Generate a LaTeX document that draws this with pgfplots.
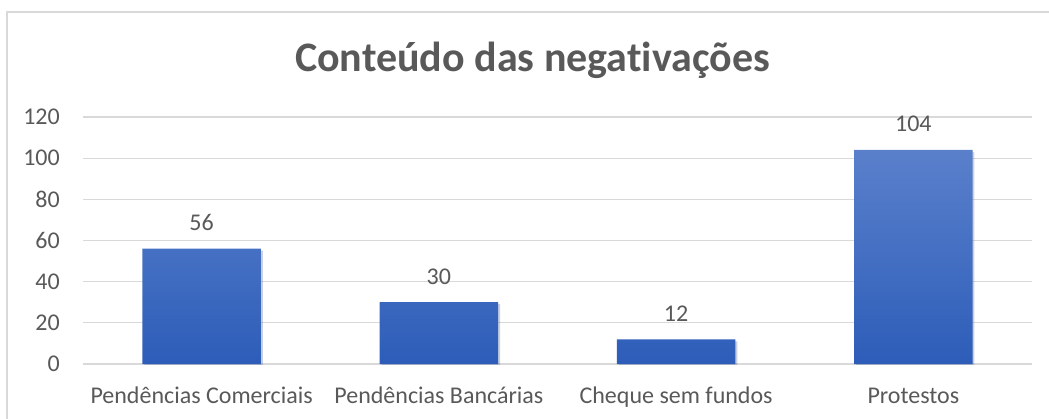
\documentclass[border=0pt]{standalone}
\usepackage{pgfplots}
\pgfplotsset{compat=1.18}
\usepackage{fontspec}
\setmainfont[Ligatures=NoCommon]{Carlito}
\usetikzlibrary{shadows}

\definecolor{txtgray}{HTML}{595959}
\definecolor{gridgray}{HTML}{D9D9D9}
\definecolor{bartop}{HTML}{5A80CB}
\definecolor{barbot}{HTML}{2D5DB9}

\begin{document}
\begin{tikzpicture}[x=1pt,y=1pt]
\useasboundingbox (0,0) rectangle (1049,-419);
% chart area border (right and bottom are cut off)
\draw[gridgray, line width=1.3pt] (7,-419) -- (7,-12) -- (1049,-12);

\node[anchor=base, text=txtgray, font=\fontsize{42}{46}\selectfont\bfseries]
  at (532.5,-71.5) {Conteúdo das negativações};

\begin{axis}[
    at={(83pt,-364pt)}, anchor=south west,
    scale only axis,
    width=949pt, height=247pt,
    xmin=-0.5, xmax=3.5,
    ymin=0, ymax=120,
    ytick={0,20,...,120},
    xtick={0,1,2,3},
    xticklabels={Pendências Comerciais, Pendências Bancárias, Cheque sem fundos, Protestos},
    axis line style={draw=none},
    major tick length=0pt,
    ymajorgrids,
    grid style={gridgray, line width=1.3pt},
    /pgf/number format/assume math mode=true,
    tick label style={font=\fontsize{24}{28}\selectfont, text=txtgray},
    yticklabel style={anchor=east, inner sep=0pt, xshift=-23pt},
    xticklabel style={anchor=base, inner sep=0pt, yshift=-39pt},
    ybar, bar width=0.5,
    nodes near coords,
    nodes near coords style={anchor=base, inner sep=0pt, yshift=18pt,
        font=\fontsize{24}{28}\selectfont, text=txtgray},
]
\addplot[draw=none, top color=bartop, bottom color=barbot,
    drop shadow={opacity=0.18, shadow xshift=2pt, shadow yshift=-2pt}]
  table[x=idx, y=val] {
idx val
0   56
1   30
2   12
3   104
};
\end{axis}
\end{tikzpicture}
\end{document}
